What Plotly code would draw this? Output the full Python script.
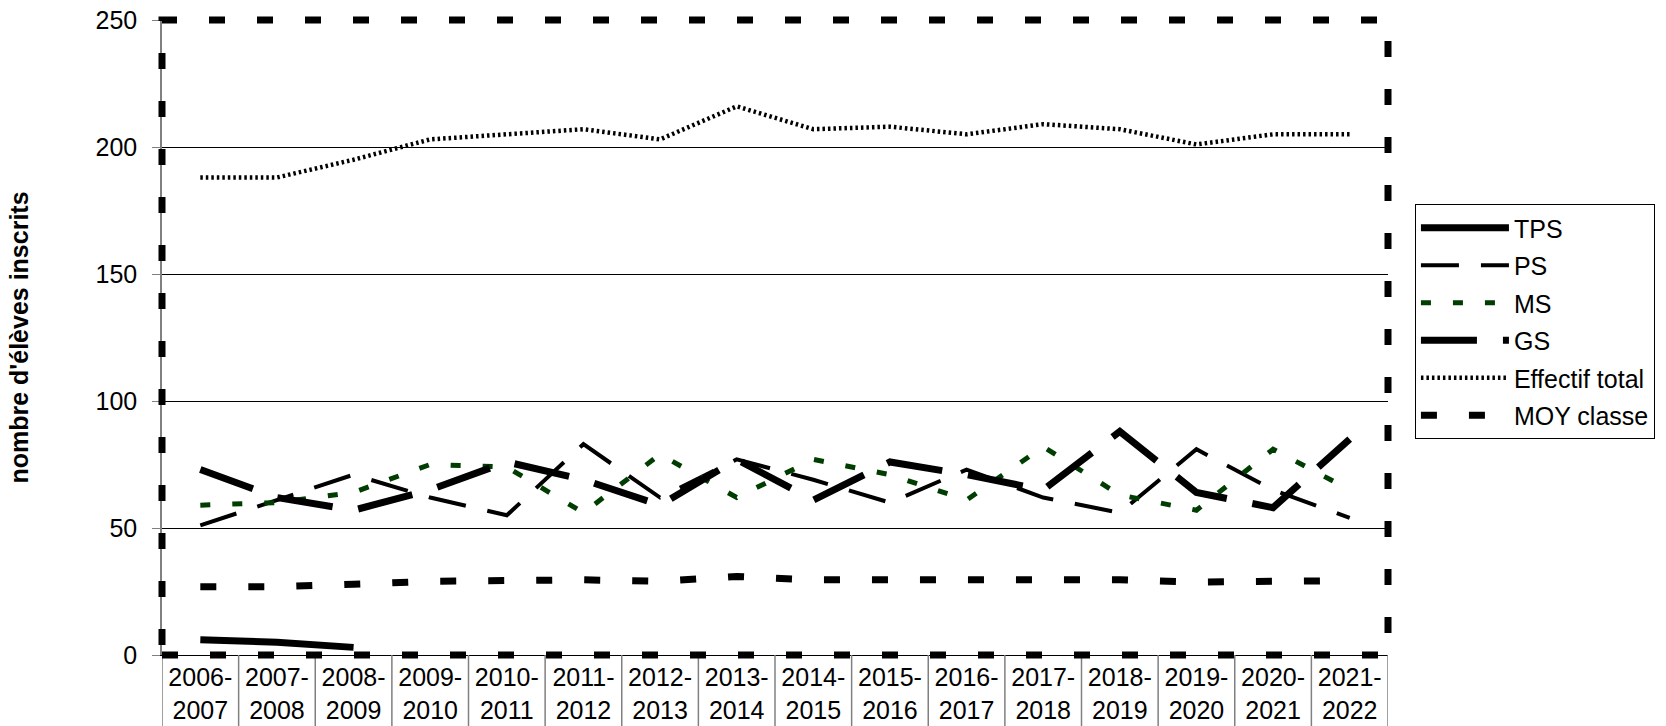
import plotly.graph_objects as go

years = ["2006-<br>2007", "2007-<br>2008", "2008-<br>2009", "2009-<br>2010", "2010-<br>2011",
         "2011-<br>2012", "2012-<br>2013", "2013-<br>2014", "2014-<br>2015", "2015-<br>2016",
         "2016-<br>2017", "2017-<br>2018", "2018-<br>2019", "2019-<br>2020", "2020-<br>2021",
         "2021-<br>2022"]
tps = [6, 5, 3, None, None, None, None, None, None, None, None, None, None, None, None, None]
ps = [51, 61, 71, 62, 55, 83, 62, 77, 69, 60, 73, 62, 56, 81, 65, 54]
ms = [59, 60, 64, 75, 74, 56, 79, 62, 77, 71, 61, 82, 63, 57, 81, 65]
gs = [73, 62, 57, 65, 76, 69, 59, 77, 61, 76, 71, 65, 88, 64, 58, 85]
total = [188, 188, 195, 203, 205, 207, 203, 216, 207, 208, 205, 209, 207, 201, 205, 205]
moy = [26.9, 26.9, 27.9, 29.0, 29.3, 29.6, 29.0, 30.9, 29.6, 29.7, 29.3, 29.9, 29.6, 28.7, 29.3, 29.3]
y_ticks = [0, 50, 100, 150, 200, 250]

FONT = "Liberation Sans, Arial, sans-serif"

fig = go.Figure()
fig.add_trace(go.Scatter(x=years, y=tps, name="TPS", mode="lines", legendgroup="a",
                         line=dict(color="black", width=7)))
fig.add_trace(go.Scatter(x=years, y=ps, name="PS", mode="lines", legendgroup="b",
                         line=dict(color="black", width=4, dash="38px,22px")))
fig.add_trace(go.Scatter(x=years, y=ms, name="MS", mode="lines", legendgroup="c",
                         line=dict(color="#003d00", width=5, dash="10px,22px")))
fig.add_trace(go.Scatter(x=years, y=gs, name="GS", mode="lines", legendgroup="d",
                         line=dict(color="black", width=7, dash="56px,26px")))
fig.add_trace(go.Scatter(x=years, y=total, name="Effectif total", mode="lines", legendgroup="e",
                         line=dict(color="black", width=4.5, dash="2.5px,3px")))
fig.add_trace(go.Scatter(x=years, y=moy, name="MOY classe", mode="lines", legendgroup="f",
                         line=dict(color="black", width=7, dash="16px,32px")))

shapes = []
# category separators below the x axis
for i in range(len(years) + 1):
    shapes.append(dict(type="line", xref="x", yref="paper", x0=i - 0.5, x1=i - 0.5,
                       y0=0, y1=-0.115, line=dict(color="#808080", width=1.5), layer="above"))
# dashed plot-area border
shapes.append(dict(type="rect", xref="paper", yref="paper", x0=0, x1=1, y0=0, y1=1,
                   line=dict(color="black", width=7, dash="16px,32px"), layer="above"))

fig.update_layout(
    width=1666, height=726,
    margin=dict(l=162, r=278, t=20, b=71, autoexpand=False),
    paper_bgcolor="white", plot_bgcolor="white",
    font=dict(family=FONT, size=25, color="black"),
    showlegend=True,
    legend=dict(xref="container", yref="container", x=0.8493, y=0.719,
                xanchor="left", yanchor="top",
                bordercolor="black", borderwidth=1, bgcolor="white",
                font=dict(size=25), itemwidth=88, tracegroupgap=2),
    shapes=shapes,
    xaxis=dict(type="category", range=[-0.5, len(years) - 0.5], showgrid=False,
               showline=True, linecolor="black", linewidth=1, ticks="",
               tickfont=dict(size=25), automargin=False),
    yaxis=dict(range=[0, 250], tickvals=y_ticks, showgrid=True, gridcolor="black",
               gridwidth=1, showline=True, linecolor="#808080", linewidth=1.5,
               ticks="outside", ticklen=8, tickcolor="#808080", zeroline=False,
               tickfont=dict(size=25), ticklabelstandoff=10, automargin=False,
               title=dict(text="<b>nombre d'élèves inscrits</b>", font=dict(size=25), standoff=60)),
)

fig.write_html("out.html", config={"displayModeBar": False},
               post_script="document.body.style.margin='0';document.body.style.overflow='hidden';")
